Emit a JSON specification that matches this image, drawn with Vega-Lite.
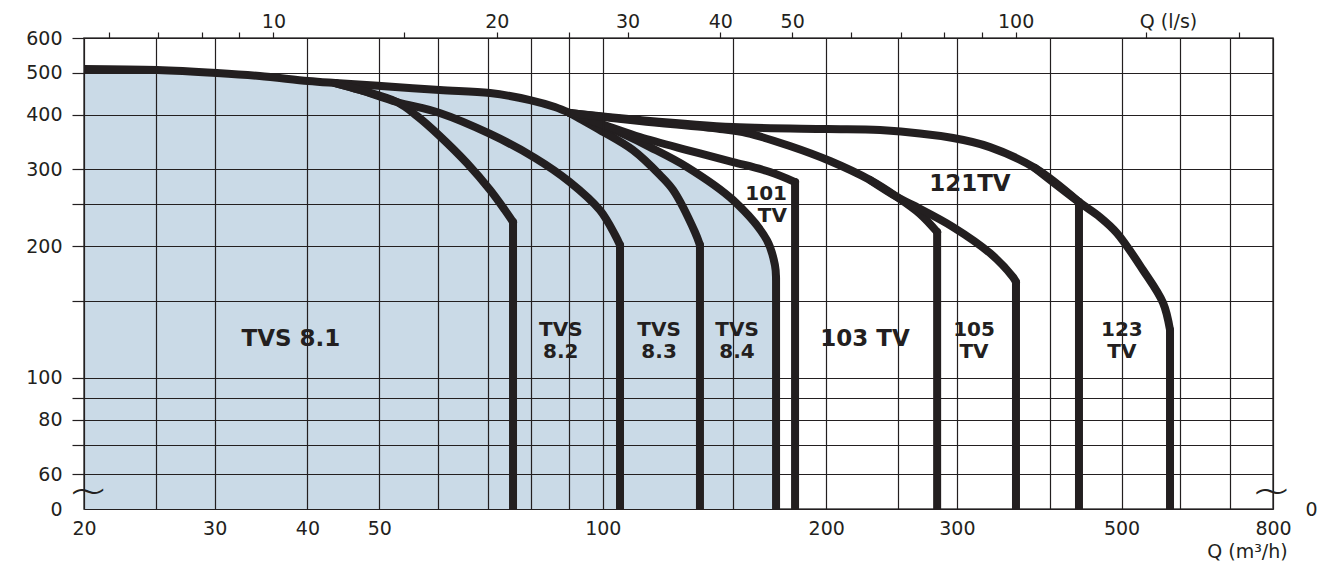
{
  "$schema": "https://vega.github.io/schema/vega-lite/v6.json",
  "width": 1189,
  "height": 471,
  "autosize": "none",
  "padding": {"left": 84, "top": 38, "right": 56, "bottom": 54},
  "background": "white",
  "config": {
    "view": {"stroke": "#444444", "strokeWidth": 1.5},
    "axis": {"labelFont": "DejaVu Sans", "labelFontSize": 19, "labelColor": "#231f20", "titleFont": "DejaVu Sans", "titleFontSize": 19, "titleFontWeight": "normal", "titleColor": "#231f20"}
  },
  "datasets": {
    "fill": [
      {"x": 20, "y": 509.5}, {"x": 25.1, "y": 506.8}, {"x": 30.2, "y": 498.8}, {"x": 34.5, "y": 490.9}, {"x": 40.1, "y": 478.1}, {"x": 43.6, "y": 473.1}, {"x": 50.3, "y": 465.7}, {"x": 60.3, "y": 456}, {"x": 70.5, "y": 448.9}, {"x": 79.8, "y": 432.5}, {"x": 86.2, "y": 416.9}, {"x": 90.3, "y": 403.9}, {"x": 99.1, "y": 381.2}, {"x": 106.5, "y": 361.6}, {"x": 115.8, "y": 337.4}, {"x": 129.9, "y": 303.7}, {"x": 149.8, "y": 255.2}, {"x": 166.4, "y": 206.6}, {"x": 170.6, "y": 181.1}, {"x": 171.2, "y": 169.1}
    ],
    "curves": [
      {"s": "env", "x": 20, "y": 509.5}, {"s": "env", "x": 25.1, "y": 506.8}, {"s": "env", "x": 30.2, "y": 498.8}, {"s": "env", "x": 34.5, "y": 490.9}, {"s": "env", "x": 40.1, "y": 478.1}, {"s": "env", "x": 43.6, "y": 473.1}, {"s": "env", "x": 50.3, "y": 465.7}, {"s": "env", "x": 60.3, "y": 456}, {"s": "env", "x": 70.5, "y": 448.9}, {"s": "env", "x": 79.8, "y": 432.5}, {"s": "env", "x": 86.2, "y": 416.9}, {"s": "env", "x": 90.3, "y": 403.9},
      {"s": "TVS 8.1", "x": 43.6, "y": 473.1}, {"s": "TVS 8.1", "x": 47.1, "y": 456}, {"s": "TVS 8.1", "x": 52.8, "y": 428}, {"s": "TVS 8.1", "x": 56.2, "y": 397.6}, {"s": "TVS 8.1", "x": 60.3, "y": 357.8}, {"s": "TVS 8.1", "x": 65.6, "y": 310.2}, {"s": "TVS 8.1", "x": 70.5, "y": 269}, {"s": "TVS 8.1", "x": 73.8, "y": 242.1}, {"s": "TVS 8.1", "x": 75.7, "y": 227.3},
      {"s": "TVS 8.2", "x": 43.6, "y": 473.1}, {"s": "TVS 8.2", "x": 47.1, "y": 456}, {"s": "TVS 8.2", "x": 52.8, "y": 428}, {"s": "TVS 8.2", "x": 60.3, "y": 403.9}, {"s": "TVS 8.2", "x": 70.5, "y": 361.6}, {"s": "TVS 8.2", "x": 81.1, "y": 318.5}, {"s": "TVS 8.2", "x": 90.3, "y": 280.6}, {"s": "TVS 8.2", "x": 99.1, "y": 242.1}, {"s": "TVS 8.2", "x": 103.9, "y": 212.2}, {"s": "TVS 8.2", "x": 105.5, "y": 201.2},
      {"s": "TVS 8.3", "x": 90.3, "y": 403.9}, {"s": "TVS 8.3", "x": 92.3, "y": 395.5}, {"s": "TVS 8.3", "x": 99.1, "y": 369.3}, {"s": "TVS 8.3", "x": 109.8, "y": 332.2}, {"s": "TVS 8.3", "x": 119.4, "y": 291.2}, {"s": "TVS 8.3", "x": 124.4, "y": 269}, {"s": "TVS 8.3", "x": 133.1, "y": 215.6}, {"s": "TVS 8.3", "x": 135.2, "y": 201.2},
      {"s": "TVS 8.4", "x": 90.3, "y": 403.9}, {"s": "TVS 8.4", "x": 99.1, "y": 381.2}, {"s": "TVS 8.4", "x": 106.5, "y": 361.6}, {"s": "TVS 8.4", "x": 115.8, "y": 337.4}, {"s": "TVS 8.4", "x": 129.9, "y": 303.7}, {"s": "TVS 8.4", "x": 149.8, "y": 255.2}, {"s": "TVS 8.4", "x": 166.4, "y": 206.6}, {"s": "TVS 8.4", "x": 170.6, "y": 181.1}, {"s": "TVS 8.4", "x": 171.2, "y": 169.1},
      {"s": "101TV", "x": 90.3, "y": 403.9}, {"s": "101TV", "x": 102.3, "y": 375.2}, {"s": "101TV", "x": 112.2, "y": 355.8}, {"s": "101TV", "x": 129.9, "y": 332.2}, {"s": "101TV", "x": 149.8, "y": 311.9}, {"s": "101TV", "x": 168, "y": 295.8}, {"s": "101TV", "x": 181.6, "y": 280.6},
      {"s": "103TV", "x": 90.3, "y": 403.9}, {"s": "103TV", "x": 112.2, "y": 387.2}, {"s": "103TV", "x": 143.9, "y": 371.2}, {"s": "103TV", "x": 156.4, "y": 363.5}, {"s": "103TV", "x": 178.7, "y": 339.3}, {"s": "103TV", "x": 202.4, "y": 313.5}, {"s": "103TV", "x": 229.2, "y": 283.6}, {"s": "103TV", "x": 249.2, "y": 259.3}, {"s": "103TV", "x": 267.6, "y": 237.1}, {"s": "103TV", "x": 282.2, "y": 215.6},
      {"s": "105TV", "x": 229.2, "y": 283.6}, {"s": "105TV", "x": 249.2, "y": 259.3}, {"s": "105TV", "x": 261.8, "y": 248.5}, {"s": "105TV", "x": 296.5, "y": 221.3}, {"s": "105TV", "x": 332.4, "y": 192.9}, {"s": "105TV", "x": 357, "y": 170}, {"s": "105TV", "x": 360.4, "y": 165.6},
      {"s": "121TV", "x": 90.3, "y": 403.9}, {"s": "121TV", "x": 112.2, "y": 389.3}, {"s": "121TV", "x": 149.8, "y": 375.2}, {"s": "121TV", "x": 200.5, "y": 371.2}, {"s": "121TV", "x": 236.4, "y": 369.3}, {"s": "121TV", "x": 296.5, "y": 353.9}, {"s": "121TV", "x": 332.4, "y": 337.4}, {"s": "121TV", "x": 382.2, "y": 302.2}, {"s": "121TV", "x": 438.2, "y": 252.5},
      {"s": "123TV", "x": 382.2, "y": 302.2}, {"s": "123TV", "x": 438.2, "y": 252.5}, {"s": "123TV", "x": 467.6, "y": 233.3}, {"s": "123TV", "x": 493, "y": 214.4}, {"s": "123TV", "x": 534.4, "y": 176.4}, {"s": "123TV", "x": 568.8, "y": 148.3}, {"s": "123TV", "x": 581.2, "y": 128.6}
    ],
    "limits": [
      {"s": "TVS 8.1", "x": 75.7, "y": 227.3},
      {"s": "TVS 8.2", "x": 105.5, "y": 201.2},
      {"s": "TVS 8.3", "x": 135.2, "y": 201.2},
      {"s": "TVS 8.4", "x": 171.2, "y": 169.1},
      {"s": "101TV", "x": 181.6, "y": 280.6},
      {"s": "103TV", "x": 282.2, "y": 215.6},
      {"s": "105TV", "x": 360.4, "y": 165.6},
      {"s": "121TV", "x": 438.2, "y": 252.5},
      {"s": "123TV", "x": 581.2, "y": 128.6}
    ],
    "labelsSingle": [
      {"t": "TVS 8.1", "x": 38.0, "y": 118.1},
      {"t": "103 TV", "x": 225.6, "y": 118.1},
      {"t": "121TV", "x": 312.4, "y": 267.7}
    ],
    "labelsDouble": [
      {"t": "TVS\n8.2", "x": 87.8, "y": 124.4},
      {"t": "TVS\n8.3", "x": 119.1, "y": 124.4},
      {"t": "TVS\n8.4", "x": 151.7, "y": 124.4},
      {"t": "105\nTV", "x": 316.4, "y": 124.4},
      {"t": "123\nTV", "x": 500.6, "y": 124.4}
    ],
    "labelsRight": [
      {"t": "101\nTV", "x": 177.1, "y": 255.2}
    ],
    "breaks": [
      {"x": 20.25, "y": 54.4},
      {"x": 796, "y": 54.4}
    ]
  },
  "resolve": {"axis": {"x": "independent", "y": "independent"}},
  "layer": [
    {
      "data": {"name": "fill"},
      "mark": {"type": "area", "color": "#cadae7", "opacity": 1, "clip": true, "interpolate": "catmull-rom"},
      "encoding": {
        "x": {"field": "x", "type": "quantitative", "scale": {"type": "log", "domain": [20, 800], "nice": false},
          "axis": {"orient": "bottom", "values": [20, 25, 30, 40, 50, 60, 70, 80, 90, 100, 150, 200, 250, 300, 400, 500, 600, 700, 800], "grid": true, "gridColor": "#231f20", "gridWidth": 1.2, "ticks": false, "tickSize": 0, "domain": false, "labelPadding": 10, "labelOverlap": false, "labelFlush": false, "labelBound": false,
            "labelExpr": "indexof([20,30,40,50,100,200,300,500,800], datum.value) >= 0 ? format(datum.value, 'd') : ''",
            "title": "Q (m³/h)", "titleX": 1163, "titleY": 48, "titleAlign": "center", "titleBaseline": "alphabetic", "zindex": 1}},
        "y": {"field": "y", "type": "quantitative", "scale": {"type": "log", "domain": [50, 600], "nice": false},
          "axis": {"orient": "left", "values": [50, 60, 70, 80, 90, 100, 150, 200, 250, 300, 400, 500, 600], "grid": true, "gridColor": "#231f20", "gridWidth": 1.2, "ticks": true, "tickSize": 12, "tickWidth": 1.2,
            "tickColor": {"condition": {"test": "datum.value == 50", "value": "transparent"}, "value": "#231f20"},
            "domain": false, "labelPadding": 10, "labelOverlap": false, "labelFlush": false, "labelBound": false, "labelBaseline": "middle",
            "labelExpr": "datum.value == 50 ? '0' : (indexof([60,80,100,200,300,400,500,600], datum.value) >= 0 ? format(datum.value, 'd') : '')",
            "title": null, "zindex": 1}},
        "y2": {"datum": 50}
      }
    },
    {
      "data": {"name": "curves"},
      "mark": {"type": "line", "color": "#231f20", "strokeWidth": 8, "strokeCap": "round", "interpolate": "catmull-rom", "clip": true},
      "encoding": {
        "x": {"field": "x", "type": "quantitative", "scale": {"type": "log", "domain": [20, 800], "nice": false},
          "axis": {"orient": "top", "values": [21.6, 25.2, 28.8, 32.4, 36, 54, 72, 90, 108, 144, 180, 216, 252, 288, 324, 360, 540, 720], "grid": false, "ticks": true, "tickSize": 6, "tickWidth": 1.2, "tickColor": "#231f20", "domain": false, "labelPadding": 5, "labelBaseline": "alphabetic", "labelOverlap": false, "labelFlush": false, "labelBound": false,
            "labelExpr": "indexof([36,72,108,144,180,360], datum.value) >= 0 ? format(round(datum.value/3.6), 'd') : ''",
            "title": "Q (l/s)", "titleX": 1084, "titleY": -11, "titleAlign": "center", "titleBaseline": "alphabetic"}},
        "y": {"field": "y", "type": "quantitative", "scale": {"type": "log", "domain": [50, 600], "nice": false},
          "axis": {"orient": "right", "values": [50], "grid": false, "ticks": false, "tickSize": 0, "domain": false, "labelPadding": 32, "labelAlign": "left", "labelBaseline": "middle", "labelExpr": "'0'", "title": null}},
        "detail": {"field": "s", "type": "nominal"}
      }
    },
    {
      "data": {"name": "limits"},
      "mark": {"type": "rule", "color": "#231f20", "strokeWidth": 8, "strokeCap": "round", "clip": true},
      "encoding": {
        "x": {"field": "x", "type": "quantitative", "scale": {"type": "log", "domain": [20, 800], "nice": false}, "axis": null},
        "y": {"field": "y", "type": "quantitative", "scale": {"type": "log", "domain": [50, 600], "nice": false}, "axis": null},
        "y2": {"datum": 50}
      }
    },
    {
      "data": {"name": "labelsSingle"},
      "mark": {"type": "text", "font": "DejaVu Sans", "fontWeight": "bold", "fontSize": 23, "color": "#231f20", "align": "center", "baseline": "alphabetic"},
      "encoding": {
        "x": {"field": "x", "type": "quantitative", "scale": {"type": "log", "domain": [20, 800], "nice": false}, "axis": null},
        "y": {"field": "y", "type": "quantitative", "scale": {"type": "log", "domain": [50, 600], "nice": false}, "axis": null},
        "text": {"field": "t", "type": "nominal"}
      }
    },
    {
      "data": {"name": "labelsDouble"},
      "mark": {"type": "text", "font": "DejaVu Sans", "fontWeight": "bold", "fontSize": 20, "color": "#231f20", "align": "center", "baseline": "alphabetic", "lineBreak": "\n", "lineHeight": 22},
      "encoding": {
        "x": {"field": "x", "type": "quantitative", "scale": {"type": "log", "domain": [20, 800], "nice": false}, "axis": null},
        "y": {"field": "y", "type": "quantitative", "scale": {"type": "log", "domain": [50, 600], "nice": false}, "axis": null},
        "text": {"field": "t", "type": "nominal"}
      }
    },
    {
      "data": {"name": "labelsRight"},
      "mark": {"type": "text", "font": "DejaVu Sans", "fontWeight": "bold", "fontSize": 20, "color": "#231f20", "align": "right", "baseline": "alphabetic", "lineBreak": "\n", "lineHeight": 22},
      "encoding": {
        "x": {"field": "x", "type": "quantitative", "scale": {"type": "log", "domain": [20, 800], "nice": false}, "axis": null},
        "y": {"field": "y", "type": "quantitative", "scale": {"type": "log", "domain": [50, 600], "nice": false}, "axis": null},
        "text": {"field": "t", "type": "nominal"}
      }
    },
    {
      "data": {"name": "breaks"},
      "mark": {"type": "text", "text": "~", "font": "DejaVu Sans", "fontWeight": 200, "fontSize": 48, "color": "#231f20", "align": "center", "baseline": "middle"},
      "encoding": {
        "x": {"field": "x", "type": "quantitative", "scale": {"type": "log", "domain": [20, 800], "nice": false}, "axis": null},
        "y": {"field": "y", "type": "quantitative", "scale": {"type": "log", "domain": [50, 600], "nice": false}, "axis": null}
      }
    }
  ]
}
